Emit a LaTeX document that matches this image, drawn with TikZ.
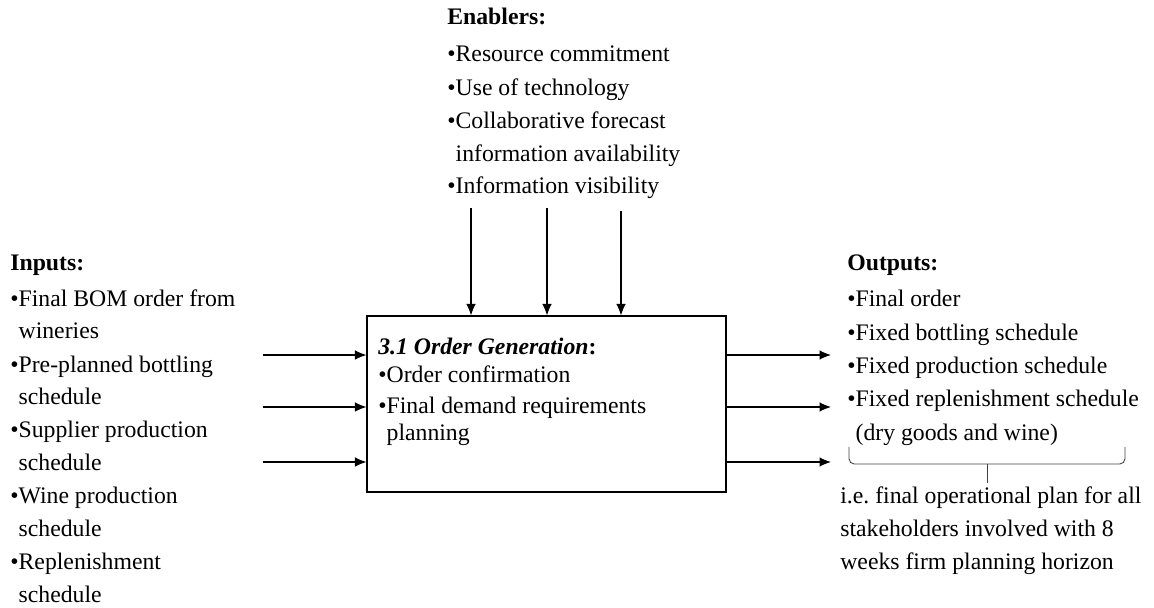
\documentclass[tikz,border=0pt]{standalone}
\usepackage{fontspec}
\setmainfont{Liberation Serif}
\usetikzlibrary{arrows.meta}

\begin{document}
\begin{tikzpicture}[
    font=\fontsize{13.5}{18}\selectfont,
    txt/.style={anchor=base west, inner sep=0pt},
    head/.style={txt, font=\fontsize{13.5}{18}\selectfont\bfseries},
    flow/.style={-{Latex[length=2.3mm, width=1.9mm]}, line width=0.6pt}
  ]
  \useasboundingbox (0,0) rectangle (23.08,-12.16);

  % Enablers column
  \node[head] (en0) at (8.94, -0.50) {Enablers:};
  \node[txt] (en1) at (8.94, -1.24) {•Resource commitment};
  \node[txt] (en2) at (8.94, -1.92) {•Use of technology};
  \node[txt] (en3) at (8.94, -2.58) {•Collaborative forecast};
  \node[txt] (en3b) at (8.94, -3.24) {\hphantom{•}information availability};
  \node[txt] (en4) at (8.94, -3.88) {•Information visibility};

  % Inputs column
  \node[head] (inp0) at (0.20, -5.42) {Inputs:};
  \node[txt] (inp1) at (0.20, -6.14) {•Final BOM order from};
  \node[txt] (inp1b) at (0.20, -6.78) {\hphantom{•}wineries};
  \node[txt] (inp2) at (0.20, -7.46) {•Pre-planned bottling};
  \node[txt] (inp2b) at (0.20, -8.10) {\hphantom{•}schedule};
  \node[txt] (inp3) at (0.20, -8.76) {•Supplier production};
  \node[txt] (inp3b) at (0.20, -9.42) {\hphantom{•}schedule};
  \node[txt] (inp4) at (0.20, -10.08) {•Wine production};
  \node[txt] (inp4b) at (0.20, -10.74) {\hphantom{•}schedule};
  \node[txt] (inp5) at (0.20, -11.40) {•Replenishment};
  \node[txt] (inp5b) at (0.20, -12.06) {\hphantom{•}schedule};

  % Process box
  \node[draw, line width=0.6pt, minimum width=7.18cm, minimum height=3.52cm] (gen) at (10.93, -8.08) {};
  \node[txt] (gen0) at (7.56, -7.10) {\textbf{\textit{3.1 Order Generation}:}};
  \node[txt] (gen1) at (7.56, -7.66) {•Order confirmation};
  \node[txt] (gen2) at (7.56, -8.28) {•Final demand requirements};
  \node[txt] (gen2b) at (7.56, -8.82) {\hphantom{•}planning};

  % Outputs column
  \node[head] (out0) at (16.94, -5.42) {Outputs:};
  \node[txt] (out1) at (16.94, -6.14) {•Final order};
  \node[txt] (out2) at (16.94, -6.82) {•Fixed bottling schedule};
  \node[txt] (out3) at (16.94, -7.48) {•Fixed production schedule};
  \node[txt] (out4) at (16.94, -8.14) {•Fixed replenishment schedule};
  \node[txt] (out4b) at (16.94, -8.82) {\hphantom{•}(dry goods and wine)};

  % Note under the brace
  \node[txt] (note1) at (16.80, -10.08) {i.e.\ final operational plan for all};
  \node[txt] (note2) at (16.80, -10.74) {stakeholders involved with 8};
  \node[txt] (note3) at (16.80, -11.40) {weeks firm planning horizon};

  % Arrow start points
  \coordinate (a1) at (5.26, -7.10);
  \coordinate (a2) at (5.26, -8.14);
  \coordinate (a3) at (5.26, -9.24);
  \coordinate (e1) at (9.42, -4.16);
  \coordinate (e2) at (10.94, -4.16);
  \coordinate (e3) at (12.42, -4.22);
  \coordinate (o1) at (16.62, -7.10);
  \coordinate (o2) at (16.62, -8.14);
  \coordinate (o3) at (16.62, -9.24);

  % Inputs into the box
  \draw[flow] (a1) -- (a1 -| gen.west);
  \draw[flow] (a2) -- (a2 -| gen.west);
  \draw[flow] (a3) -- (a3 -| gen.west);

  % Enablers down into the box
  \draw[flow] (e1) -- (e1 |- gen.north);
  \draw[flow] (e2) -- (e2 |- gen.north);
  \draw[flow] (e3) -- (e3 |- gen.north);

  % Outputs out of the box
  \draw[flow] (o1 -| gen.east) -- (o1);
  \draw[flow] (o2 -| gen.east) -- (o2);
  \draw[flow] (o3 -| gen.east) -- (o3);

  % Bracket over the note
  \coordinate (b1) at (16.98, -8.94);
  \coordinate (b2) at (22.50, -8.94);
  \coordinate (bm) at (19.74, -9.28);
  \coordinate (tip) at (19.74, -9.66);
  \draw[line width=0.5pt, black!75, rounded corners=3pt] (b1) |- (bm) -| (b2);
  \draw[line width=0.5pt, black!75] (bm) -- (tip);

\end{tikzpicture}
\end{document}
